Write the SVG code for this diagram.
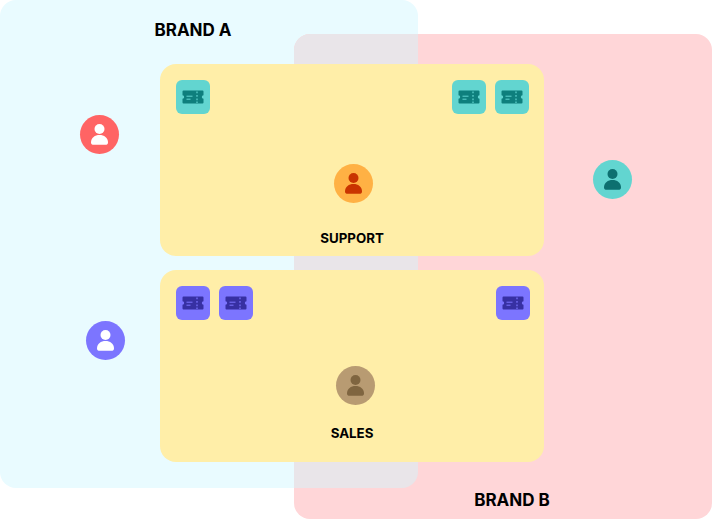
<svg xmlns="http://www.w3.org/2000/svg" width="712" height="519" viewBox="0 0 712 519">
<style>
.t{font-family:Inter,"Liberation Sans",sans-serif;font-weight:700;fill:#000}
.b{font-size:17px}.g{font-size:13.300px}
.team{fill:#FFEEA8}
</style>
<defs>
<g id="tk">
<path d="M-9.500-6.500a1 1 0 0 0-1 1v3.800a1.700 1.700 0 0 1 0 3.400v3.800a1 1 0 0 0 1 1h19a1 1 0 0 0 1-1v-3.800a1.700 1.700 0 0 1 0-3.400v-3.800a1 1 0 0 0-1-1z" fill="currentColor"/>
<path d="M4-5.500v1.700M4-2v1.700M4 1.500v1.700M4 4.500v1.500" stroke="var(--c)" stroke-width="1.200" fill="none"/>
<path d="M-6.500-.8h6M-6.500 2.200h4" stroke="var(--c)" stroke-width="1" fill="none"/>
</g>
<g id="p">
<circle cx="0" cy="-5.500" r="5"/>
<path d="M-8.500 8C-8.500 3-4.500 .5 0 .5S8.500 3 8.500 8C8.500 9.500 7.500 10.300 6 10.300H-6C-7.500 10.300-8.500 9.500-8.500 8Z"/>
</g>
</defs>
<g id="brand-a"><rect x="0" y="0" width="418" height="488" rx="16" fill="#E9FBFF"/><text class="t b" x="193" y="36" text-anchor="middle">BRAND A</text></g>
<g id="brand-b"><rect x="294" y="34" width="418" height="485" rx="16" fill="#FFD6D8"/><path d="M310 34H418V472A16 16 0 0 1 402 488H294V50A16 16 0 0 1 310 34Z" fill="#E9E5E9"/><text class="t b" x="512" y="506" text-anchor="middle">BRAND B</text></g>
<g id="support"><rect class="team" x="160" y="64" width="384" height="192" rx="16"/><text class="t g" x="352" y="243" text-anchor="middle">SUPPORT</text></g>
<g id="sales"><rect class="team" x="160" y="270" width="384" height="192" rx="16"/><text class="t g" x="352" y="438" text-anchor="middle">SALES</text></g>
<g id="ticket-1" transform="translate(193 97)" style="color:#0E7F7D;--c:#62D5D0"><rect x="-17" y="-17" width="34" height="34" rx="6" fill="#62D5D0"/><use href="#tk"/></g>
<g id="ticket-2" transform="translate(469 97)" style="color:#0E7F7D;--c:#62D5D0"><rect x="-17" y="-17" width="34" height="34" rx="6" fill="#62D5D0"/><use href="#tk"/></g>
<g id="ticket-3" transform="translate(512 97)" style="color:#0E7F7D;--c:#62D5D0"><rect x="-17" y="-17" width="34" height="34" rx="6" fill="#62D5D0"/><use href="#tk"/></g>
<g id="ticket-4" transform="translate(193 303)" style="color:#3730A3;--c:#7C75FF"><rect x="-17" y="-17" width="34" height="34" rx="6" fill="#7C75FF"/><use href="#tk"/></g>
<g id="ticket-5" transform="translate(236 303)" style="color:#3730A3;--c:#7C75FF"><rect x="-17" y="-17" width="34" height="34" rx="6" fill="#7C75FF"/><use href="#tk"/></g>
<g id="ticket-6" transform="translate(513 303)" style="color:#3730A3;--c:#7C75FF"><rect x="-17" y="-17" width="34" height="34" rx="6" fill="#7C75FF"/><use href="#tk"/></g>
<g id="user-red" transform="translate(99.500 134.500)"><circle r="19.500" fill="#FF6464"/><use href="#p" fill="#fff"/></g>
<g id="user-teal" transform="translate(612.500 179.500)"><circle r="19.500" fill="#62D5D0"/><use href="#p" fill="#0D7070"/></g>
<g id="user-purple" transform="translate(105.500 340.500)"><circle r="19.500" fill="#7C75FF"/><use href="#p" fill="#fff"/></g>
<g id="user-orange" transform="translate(353.500 183.500)"><circle r="19.500" fill="#FFB144"/><use href="#p" fill="#C93400"/></g>
<g id="user-brown" transform="translate(355.500 385.500)"><circle r="19.500" fill="#B89B72"/><use href="#p" fill="#7F6540"/></g>
<g id="connectors"></g>
</svg>
